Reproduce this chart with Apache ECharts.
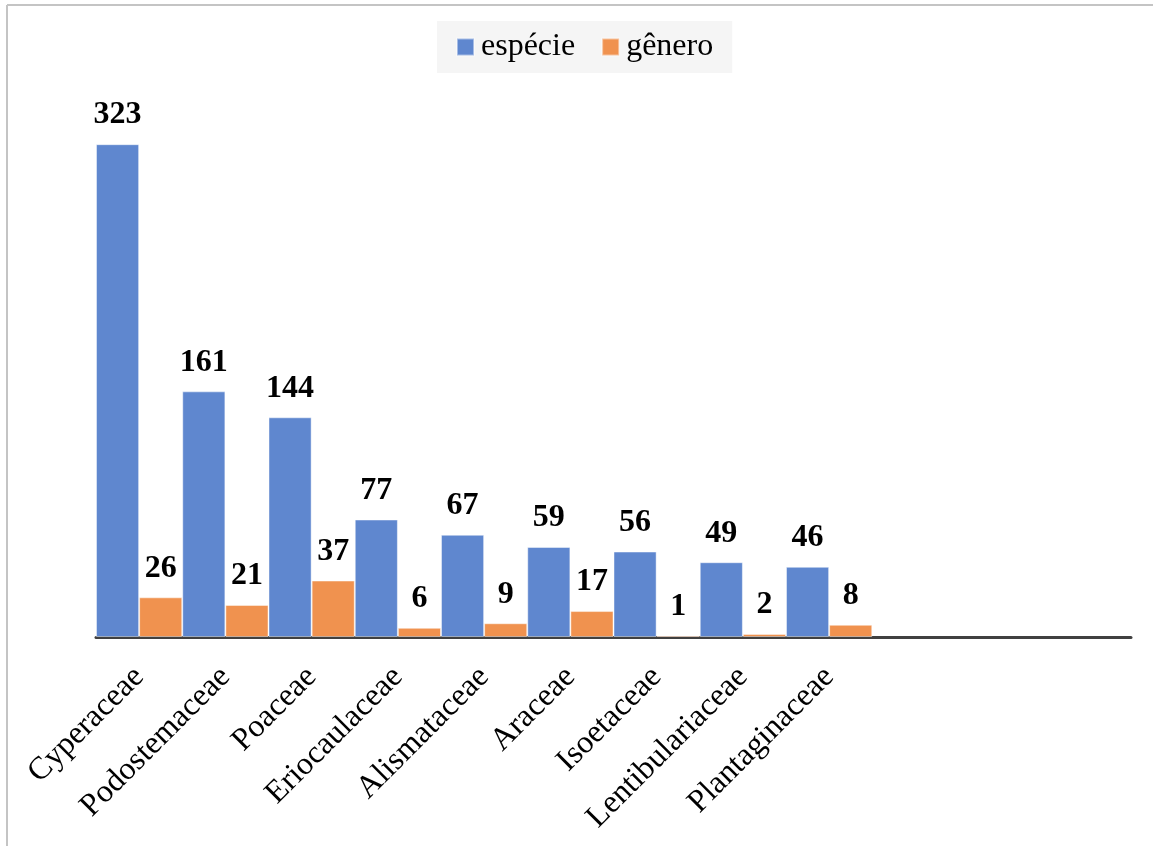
<!DOCTYPE html>
<html>
<head>
<meta charset="utf-8">
<script src="https://cdn.jsdelivr.net/npm/echarts@6/dist/echarts.min.js"></script>
<style>html,body{margin:0;padding:0;background:#fff;}#c{width:1153px;height:846px;}</style>
</head>
<body>
<div id="c"></div>
<script>
const categories = ['Cyperaceae','Podostemaceae','Poaceae','Eriocaulaceae','Alismataceae','Araceae','Isoetaceae','Lentibulariaceae','Plantaginaceae','','',''];
const especie = [323,161,144,77,67,59,56,49,46,null,null,null];
const genero = [26,21,37,6,9,17,1,2,8,null,null,null];

const serif = '"Liberation Serif","Times New Roman",serif';
const chart = echarts.init(document.getElementById('c'));
const labelStyle = {show:true, position:'top', distance:13, fontFamily:serif, fontSize:32, fontWeight:'bold', color:'#000'};
chart.setOption({
  animation:false,
  backgroundColor:'#fff',
  graphic:[
    {type:'line', shape:{x1:7,y1:5,x2:1153,y2:5}, style:{stroke:'#c4c4c4', lineWidth:2}},
    {type:'line', shape:{x1:7,y1:5,x2:7,y2:846}, style:{stroke:'#c4c4c4', lineWidth:2}}
  ],
  legend:{
    top:21, left:437,
    backgroundColor:'#f5f5f5',
    padding:[10,19],
    itemWidth:17, itemHeight:17, itemGap:26,
    icon:'rect',
    textStyle:{fontFamily:serif, fontSize:32, color:'#000', padding:[0,0,0,2]},
    data:['espécie','gênero']
  },
  grid:{left:96, right:22, top:103, bottom:209, containLabel:false},
  xAxis:{
    type:'category', data:categories,
    axisLine:{lineStyle:{color:'#404040', width:3}},
    axisTick:{show:false},
    axisLabel:{interval:0, rotate:45, margin:35, fontFamily:serif, fontSize:32, color:'#000'}
  },
  yAxis:{type:'value', min:0, max:350, show:false, splitLine:{show:false}},
  series:[
    {name:'espécie', type:'bar', data:especie, barGap:'0%', barCategoryGap:'0%',
     itemStyle:{color:'#5f87cf', borderColor:'rgba(255,255,255,0.45)', borderWidth:1},
     label:labelStyle},
    {name:'gênero', type:'bar', data:genero,
     itemStyle:{color:'#f0924f', borderColor:'rgba(255,255,255,0.45)', borderWidth:1},
     label:labelStyle}
  ]
});
</script>
</body>
</html>
